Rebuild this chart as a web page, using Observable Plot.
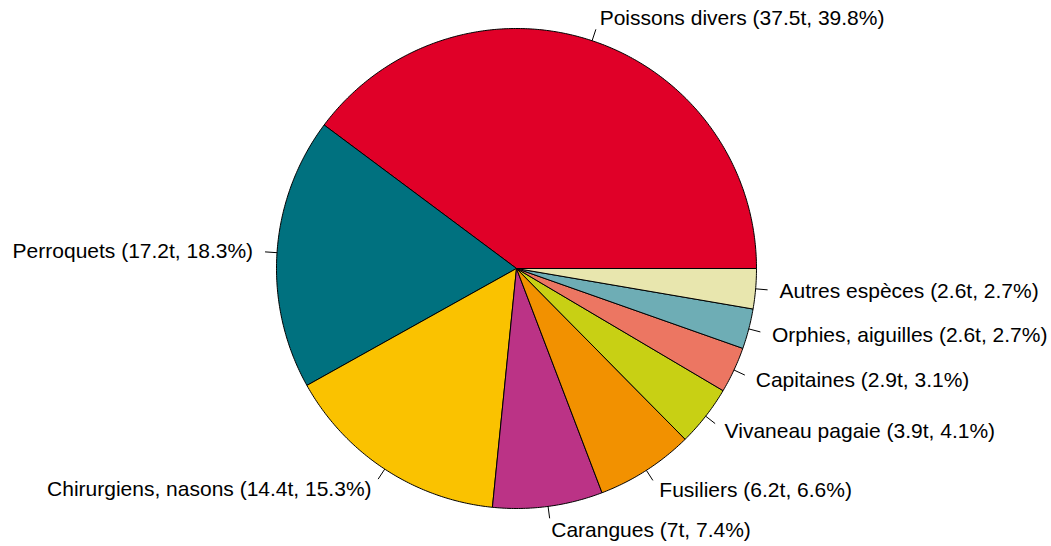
<!DOCTYPE html>
<html>
<head>
<meta charset="utf-8">
<script src="https://cdn.jsdelivr.net/npm/d3@7"></script>
<script src="https://cdn.jsdelivr.net/npm/@observablehq/plot@0.6"></script>
<style>
  html, body { margin: 0; padding: 0; background: #fff; }
  #chart { width: 1051px; height: 546px; }
</style>
</head>
<body>
<div id="chart"></div>
<script>
const categories = ["Poissons divers", "Perroquets", "Chirurgiens, nasons", "Carangues", "Fusiliers", "Vivaneau pagaie", "Capitaines", "Orphies, aiguilles", "Autres espèces"];
const tonnes = [37.5, 17.2, 14.4, 7, 6.2, 3.9, 2.9, 2.6, 2.6];
const percents = [39.8, 18.3, 15.3, 7.4, 6.6, 4.1, 3.1, 2.7, 2.7];
const colors = ["#E00028", "#00717F", "#FAC200", "#BB3386", "#F29100", "#C8D014", "#EC7662", "#6EADB5", "#E8E6AE"];

const W = 1051, H = 546;
const cx = 516, cy = 268, R = 240; // pixel geometry of the pie

// slices (angles in radians, counter-clockwise starting at 3 o'clock, like R's pie)
const total = d3.sum(percents);
let acc = 0;
const slices = categories.map((name, i) => {
  const a0 = acc / total * 2 * Math.PI;
  acc += percents[i];
  const a1 = acc / total * 2 * Math.PI;
  return {name, tonnes: tonnes[i], pct: percents[i], a0, a1, mid: (a0 + a1) / 2};
});

const polyPts = [];
for (const s of slices) {
  polyPts.push({name: s.name, x: 0, y: 0});
  const n = Math.max(2, Math.ceil((s.a1 - s.a0) / 0.01));
  for (let k = 0; k <= n; k++) {
    const a = s.a0 + (s.a1 - s.a0) * k / n;
    polyPts.push({name: s.name, x: Math.cos(a), y: Math.sin(a)});
  }
  polyPts.push({name: s.name, x: 0, y: 0});
}

const ticks = slices.map(s => ({
  x1: Math.cos(s.mid), y1: Math.sin(s.mid),
  x2: 1.05 * Math.cos(s.mid), y2: 1.05 * Math.sin(s.mid)
}));
const labels = slices.map(s => ({
  x: 1.1 * Math.cos(s.mid), y: 1.1 * Math.sin(s.mid),
  right: Math.cos(s.mid) >= 0,
  text: `${s.name} (${s.tonnes}t, ${s.pct}%)`
}));

const chart = Plot.plot({
  width: W, height: H,
  margin: 0,
  x: {domain: [-cx / R, (W - cx) / R], axis: null},
  y: {domain: [-(H - cy) / R, cy / R], axis: null},
  color: {domain: categories, range: colors},
  style: {fontFamily: "'Liberation Sans', Arial, sans-serif", background: "#fff"},
  marks: [
    Plot.line(polyPts, {x: "x", y: "y", z: "name", fill: "name", stroke: "#000", strokeWidth: 1, curve: "linear"}),
    Plot.link(ticks, {x1: "x1", y1: "y1", x2: "x2", y2: "y2", stroke: "#000", strokeWidth: 1}),
    Plot.text(labels.filter(d => d.right), {x: "x", y: "y", text: "text", textAnchor: "start", fontSize: 21, fill: "#000"}),
    Plot.text(labels.filter(d => !d.right), {x: "x", y: "y", text: "text", textAnchor: "end", fontSize: 21, fill: "#000"})
  ]
});
document.getElementById("chart").appendChild(chart);
</script>
</body>
</html>
